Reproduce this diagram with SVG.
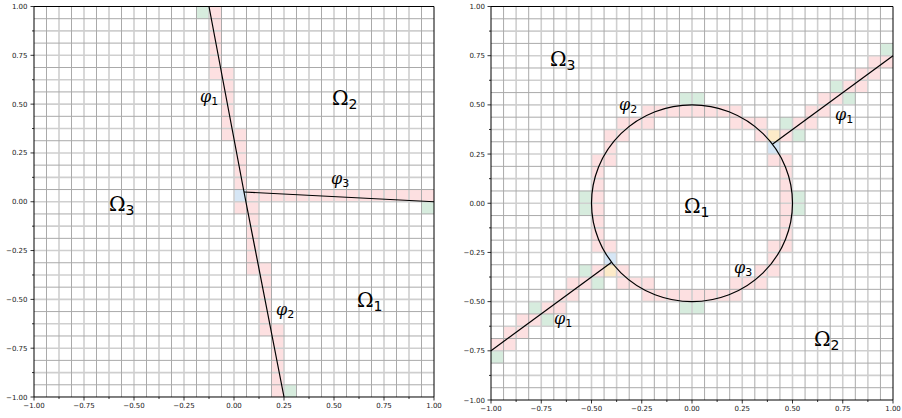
<svg xmlns="http://www.w3.org/2000/svg" width="902" height="418" viewBox="0 0 902 418">
<style>
.pk{fill:#fde0e1}
.gn{fill:#d7ecde}
.bl{fill:#d6e6f5}
.yl{fill:#fdebc9}
.g1{fill:none;stroke:#aaaaaa;stroke-width:1;vector-effect:non-scaling-stroke}
.g2{fill:none;stroke:#cfcfcf;stroke-width:1.6;vector-effect:non-scaling-stroke}
.sp{fill:none;stroke:#000;stroke-width:1;vector-effect:non-scaling-stroke}
.ln{fill:none;stroke:#000;stroke-width:1.2;vector-effect:non-scaling-stroke}
.tk{fill:none;stroke:#000;stroke-width:0.8}
.tl{font-family:"DejaVu Sans",sans-serif;font-size:7px;fill:#222}
.om{font-family:"DejaVu Serif",serif;font-size:20px;fill:#000}
.ph{font-family:"DejaVu Serif",serif;font-size:16px;font-style:italic;fill:#000}
.sb{font-style:normal;font-family:"DejaVu Sans",sans-serif}
</style>

<!-- LEFT PLOT -->
<g id="plot-left">
<g id="cells-left" transform="translate(34,6.5) scale(12.5,12.2031)">
<g class="pk">
<rect x="14" y="0" width="1" height="6"/>
<rect x="15" y="5" width="1" height="6"/>
<rect x="16" y="10" width="1" height="5"/>
<rect x="17" y="15" width="15" height="1"/>
<rect x="16" y="16" width="1" height="1"/>
<rect x="17" y="16" width="1" height="6"/>
<rect x="18" y="21" width="1" height="6"/>
<rect x="19" y="26" width="1" height="6"/>
</g>
<g class="gn">
<rect x="13" y="0" width="1" height="1"/>
<rect x="20" y="31" width="1" height="1"/>
<rect x="31" y="16" width="1" height="1"/>
</g>
<rect class="bl" x="16" y="15" width="1" height="1"/>
<path class="g2" d="M2 0V32M4 0V32M6 0V32M8 0V32M10 0V32M12 0V32M14 0V32M16 0V32M18 0V32M20 0V32M22 0V32M24 0V32M26 0V32M28 0V32M30 0V32M0 2H32M0 4H32M0 6H32M0 8H32M0 10H32M0 12H32M0 14H32M0 16H32M0 18H32M0 20H32M0 22H32M0 24H32M0 26H32M0 28H32M0 30H32"/>
<path class="g1" d="M1 0V32M3 0V32M5 0V32M7 0V32M9 0V32M11 0V32M13 0V32M15 0V32M17 0V32M19 0V32M21 0V32M23 0V32M25 0V32M27 0V32M29 0V32M31 0V32M0 1H32M0 3H32M0 5H32M0 7H32M0 9H32M0 11H32M0 13H32M0 15H32M0 17H32M0 19H32M0 21H32M0 23H32M0 25H32M0 27H32M0 29H32M0 31H32"/>
<g id="connectors-left">
<path class="ln" d="M14 0L16.8 15.2L20 32"/>
<path class="ln" d="M16.8 15.2L32 16"/>
</g>
<rect class="sp" x="0" y="0" width="32" height="32"/>
</g>
<path class="tk" d="M34 6.5h-3.5M34 55.31h-3.5M34 104.13h-3.5M34 152.94h-3.5M34 201.75h-3.5M34 250.56h-3.5M34 299.38h-3.5M34 348.19h-3.5M34 397h-3.5M34 30.91h-2M34 79.72h-2M34 128.53h-2M34 177.34h-2M34 226.16h-2M34 274.97h-2M34 323.78h-2M34 372.59h-2M34 397v3.5M84 397v3.5M134 397v3.5M184 397v3.5M234 397v3.5M284 397v3.5M334 397v3.5M384 397v3.5M434 397v3.5M59 397v2M109 397v2M159 397v2M209 397v2M259 397v2M309 397v2M359 397v2M409 397v2"/>
<g class="tl" text-anchor="end">
<text x="27.5" y="9">1.00</text>
<text x="27.5" y="57.8">0.75</text>
<text x="27.5" y="106.6">0.50</text>
<text x="27.5" y="155.4">0.25</text>
<text x="27.5" y="204.3">0.00</text>
<text x="27.5" y="253.1">−0.25</text>
<text x="27.5" y="301.9">−0.50</text>
<text x="27.5" y="350.7">−0.75</text>
<text x="27.5" y="399.5">−1.00</text>
</g>
<g class="tl" text-anchor="middle">
<text x="34" y="407.5">−1.00</text>
<text x="84" y="407.5">−0.75</text>
<text x="134" y="407.5">−0.50</text>
<text x="184" y="407.5">−0.25</text>
<text x="234" y="407.5">0.00</text>
<text x="284" y="407.5">0.25</text>
<text x="334" y="407.5">0.50</text>
<text x="384" y="407.5">0.75</text>
<text x="434" y="407.5">1.00</text>
</g>
<g id="lbl-left">
<text class="ph" x="200" y="102">φ<tspan class="sb" font-size="11" dy="3">1</tspan></text>
<text class="ph" x="276" y="315">φ<tspan class="sb" font-size="11" dy="3">2</tspan></text>
<text class="ph" x="331" y="184">φ<tspan class="sb" font-size="11" dy="3">3</tspan></text>
<text class="om" x="332" y="105">Ω<tspan class="sb" font-size="14" dy="4">2</tspan></text>
<text class="om" x="109" y="211">Ω<tspan class="sb" font-size="14" dy="4">3</tspan></text>
<text class="om" x="357" y="307">Ω<tspan class="sb" font-size="14" dy="4">1</tspan></text>
</g>
</g>

<!-- RIGHT PLOT -->
<g id="plot-right">
<g id="cells-right" transform="translate(491,6.5) scale(12.5625,12.2969)">
<g class="pk">
<rect x="12" y="8" width="8" height="1"/>
<rect x="10" y="9" width="3" height="1"/>
<rect x="19" y="9" width="3" height="1"/>
<rect x="9" y="10" width="1" height="3"/>
<rect x="10" y="10" width="1" height="1"/>
<rect x="21" y="10" width="1" height="1"/>
<rect x="8" y="12" width="1" height="8"/>
<rect x="22" y="12" width="1" height="1"/>
<rect x="23" y="12" width="1" height="8"/>
<rect x="9" y="19" width="1" height="1"/>
<rect x="22" y="19" width="1" height="3"/>
<rect x="21" y="21" width="1" height="1"/>
<rect x="10" y="21" width="1" height="1"/>
<rect x="10" y="22" width="3" height="1"/>
<rect x="19" y="22" width="3" height="1"/>
<rect x="12" y="23" width="8" height="1"/>
<rect x="30" y="4" width="2" height="1"/>
<rect x="29" y="5" width="2" height="1"/>
<rect x="28" y="6" width="2" height="1"/>
<rect x="26" y="7" width="2" height="1"/>
<rect x="25" y="8" width="2" height="1"/>
<rect x="24" y="9" width="2" height="1"/>
<rect x="23" y="10" width="1" height="1"/>
<rect x="0" y="27" width="2" height="1"/>
<rect x="1" y="26" width="2" height="1"/>
<rect x="2" y="25" width="2" height="1"/>
<rect x="4" y="24" width="2" height="1"/>
<rect x="5" y="23" width="2" height="1"/>
<rect x="6" y="22" width="2" height="1"/>
<rect x="8" y="21" width="1" height="1"/>
</g>
<g class="gn">
<rect x="31" y="3" width="1" height="1"/>
<rect x="27" y="6" width="1" height="1"/>
<rect x="28" y="7" width="1" height="1"/>
<rect x="23" y="9" width="1" height="1"/>
<rect x="24" y="10" width="1" height="1"/>
<rect x="0" y="28" width="1" height="1"/>
<rect x="4" y="25" width="1" height="1"/>
<rect x="3" y="24" width="1" height="1"/>
<rect x="8" y="22" width="1" height="1"/>
<rect x="7" y="21" width="1" height="1"/>
<rect x="15" y="7" width="2" height="1"/>
<rect x="15" y="24" width="2" height="1"/>
<rect x="7" y="15" width="1" height="2"/>
<rect x="24" y="15" width="1" height="2"/>
</g>
<g class="yl">
<rect x="22" y="10" width="1" height="1"/>
<rect x="9" y="21" width="1" height="1"/>
</g>
<g class="bl">
<rect x="22" y="11" width="1" height="1"/>
<rect x="9" y="20" width="1" height="1"/>
</g>
<path class="g2" d="M2 0V32M4 0V32M6 0V32M8 0V32M10 0V32M12 0V32M14 0V32M16 0V32M18 0V32M20 0V32M22 0V32M24 0V32M26 0V32M28 0V32M30 0V32M0 2H32M0 4H32M0 6H32M0 8H32M0 10H32M0 12H32M0 14H32M0 16H32M0 18H32M0 20H32M0 22H32M0 24H32M0 26H32M0 28H32M0 30H32"/>
<path class="g1" d="M1 0V32M3 0V32M5 0V32M7 0V32M9 0V32M11 0V32M13 0V32M15 0V32M17 0V32M19 0V32M21 0V32M23 0V32M25 0V32M27 0V32M29 0V32M31 0V32M0 1H32M0 3H32M0 5H32M0 7H32M0 9H32M0 11H32M0 13H32M0 15H32M0 17H32M0 19H32M0 21H32M0 23H32M0 25H32M0 27H32M0 29H32M0 31H32"/>
<g id="connectors-right">
<ellipse class="ln" cx="16" cy="16" rx="8" ry="8"/>
<path class="ln" d="M22.4 11.2L32 4"/>
<path class="ln" d="M0 28L9.6 20.8"/>
</g>
<rect class="sp" x="0" y="0" width="32" height="32"/>
</g>
<path class="tk" d="M491 6.5h-3.5M491 55.69h-3.5M491 104.88h-3.5M491 154.06h-3.5M491 203.25h-3.5M491 252.44h-3.5M491 301.63h-3.5M491 350.81h-3.5M491 400h-3.5M491 31.09h-2M491 80.28h-2M491 129.47h-2M491 178.66h-2M491 227.84h-2M491 277.03h-2M491 326.22h-2M491 375.41h-2M491 400v3.5M541.25 400v3.5M591.5 400v3.5M641.75 400v3.5M692 400v3.5M742.25 400v3.5M792.5 400v3.5M842.75 400v3.5M893 400v3.5M516.13 400v2M566.38 400v2M616.63 400v2M666.88 400v2M717.13 400v2M767.38 400v2M817.63 400v2M867.88 400v2"/>
<g class="tl" text-anchor="end">
<text x="485" y="9">1.00</text>
<text x="485" y="58.2">0.75</text>
<text x="485" y="107.4">0.50</text>
<text x="485" y="156.6">0.25</text>
<text x="485" y="205.8">0.00</text>
<text x="485" y="254.9">−0.25</text>
<text x="485" y="304.1">−0.50</text>
<text x="485" y="353.3">−0.75</text>
<text x="485" y="402.5">−1.00</text>
</g>
<g class="tl" text-anchor="middle">
<text x="491" y="411">−1.00</text>
<text x="541.25" y="411">−0.75</text>
<text x="591.5" y="411">−0.50</text>
<text x="641.75" y="411">−0.25</text>
<text x="692" y="411">0.00</text>
<text x="742.25" y="411">0.25</text>
<text x="792.5" y="411">0.50</text>
<text x="842.75" y="411">0.75</text>
<text x="893" y="411">1.00</text>
</g>
<g id="lbl-right">
<text class="om" x="550" y="66">Ω<tspan class="sb" font-size="14" dy="4">3</tspan></text>
<text class="om" x="684" y="213">Ω<tspan class="sb" font-size="14" dy="4">1</tspan></text>
<text class="om" x="814" y="346">Ω<tspan class="sb" font-size="14" dy="4">2</tspan></text>
<text class="ph" x="619" y="110">φ<tspan class="sb" font-size="11" dy="3">2</tspan></text>
<text class="ph" x="835" y="120">φ<tspan class="sb" font-size="11" dy="3">1</tspan></text>
<text class="ph" x="734" y="273">φ<tspan class="sb" font-size="11" dy="3">3</tspan></text>
<text class="ph" x="554" y="324">φ<tspan class="sb" font-size="11" dy="3">1</tspan></text>
</g>
</g>
</svg>
